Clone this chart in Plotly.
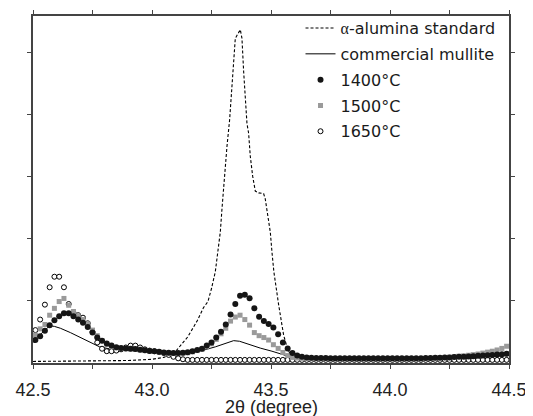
import plotly.graph_objects as go

# ---- scan grid of the measured patterns (2theta, degrees) ----
scan_start = 42.51
scan_step = 0.02
n_points = 100
two_theta = [round(scan_start + scan_step * i, 3) for i in range(n_points)]

# ---- measured samples (arbitrary intensity units) ----
i_1400 = [0.37, 0.43, 0.52, 0.61, 0.69, 0.755, 0.80, 0.80, 0.755, 0.70,
          0.65, 0.58, 0.49, 0.41, 0.36, 0.315, 0.28, 0.255, 0.24, 0.235,
          0.23, 0.225, 0.215, 0.205, 0.195, 0.19, 0.18, 0.17, 0.165, 0.16,
          0.16, 0.165, 0.175, 0.19, 0.21, 0.23, 0.28, 0.33, 0.41, 0.505,
          0.62, 0.78, 0.95, 1.085, 1.10, 1.045, 0.88, 0.745, 0.675, 0.63,
          0.57, 0.465, 0.33, 0.235, 0.16, 0.12, 0.10, 0.09, 0.085, 0.08,
          0.08, 0.08, 0.075, 0.075, 0.075, 0.075, 0.075, 0.075, 0.075, 0.075,
          0.075, 0.075, 0.075, 0.075, 0.075, 0.075, 0.075, 0.075, 0.075, 0.075,
          0.075, 0.075, 0.08, 0.08, 0.085, 0.085, 0.09, 0.09, 0.095, 0.10,
          0.10, 0.105, 0.11, 0.115, 0.12, 0.125, 0.13, 0.135, 0.14, 0.15]

i_1500 = [0.45, 0.55, 0.62, 0.77, 0.88, 0.99, 1.04, 0.93, 0.83, 0.76,
          0.70, 0.63, 0.53, 0.44, 0.36, 0.30, 0.265, 0.245, 0.235, 0.23,
          0.225, 0.22, 0.21, 0.20, 0.19, 0.185, 0.175, 0.165, 0.16, 0.155,
          0.155, 0.16, 0.165, 0.18, 0.20, 0.22, 0.26, 0.31, 0.38, 0.47,
          0.56, 0.675, 0.74, 0.77, 0.70, 0.61, 0.49, 0.44, 0.41, 0.37,
          0.295, 0.235, 0.17, 0.12, 0.09, 0.08, 0.075, 0.075, 0.07, 0.07,
          0.07, 0.07, 0.07, 0.07, 0.07, 0.07, 0.07, 0.07, 0.07, 0.07,
          0.07, 0.07, 0.07, 0.07, 0.07, 0.07, 0.07, 0.07, 0.07, 0.07,
          0.07, 0.07, 0.07, 0.075, 0.08, 0.085, 0.09, 0.095, 0.10, 0.11,
          0.115, 0.125, 0.135, 0.145, 0.16, 0.175, 0.19, 0.21, 0.235, 0.27]

i_1650 = [0.53, 0.70, 0.94, 1.22, 1.39, 1.39, 1.22, 0.95, 0.81, 0.77,
          0.73, 0.64, 0.50, 0.33, 0.23, 0.19, 0.19, 0.20, 0.22, 0.25,
          0.28, 0.28, 0.25, 0.22, 0.20, 0.19, 0.175, 0.16, 0.13, 0.10,
          0.075, 0.06, 0.05, 0.05, 0.05, 0.05, 0.05, 0.05, 0.05, 0.05,
          0.05, 0.05, 0.05, 0.05, 0.05, 0.05, 0.05, 0.05, 0.05, 0.05,
          0.05, 0.05, 0.05, 0.05, 0.05, 0.05, 0.05, 0.05, 0.05, 0.05,
          0.05, 0.05, 0.05, 0.05, 0.05, 0.05, 0.05, 0.05, 0.05, 0.05,
          0.05, 0.05, 0.05, 0.05, 0.05, 0.05, 0.05, 0.05, 0.05, 0.05,
          0.05, 0.05, 0.05, 0.05, 0.05, 0.05, 0.05, 0.05, 0.05, 0.05,
          0.05, 0.05, 0.05, 0.05, 0.05, 0.05, 0.05, 0.05, 0.05, 0.05]

# ---- reference patterns (lines) ----
alumina_x = [42.50, 42.70, 42.90, 43.00, 43.05, 43.10, 43.15, 43.19, 43.216, 43.235,
             43.25, 43.266, 43.272, 43.287, 43.294, 43.305, 43.315, 43.326, 43.336, 43.343,
             43.35, 43.371, 43.378, 43.385, 43.392, 43.399, 43.406, 43.413, 43.423, 43.434,
             43.448, 43.469, 43.476, 43.487, 43.497, 43.504, 43.512, 43.532, 43.553, 43.57,
             43.59, 43.62, 44.00, 44.50]
alumina_y = [0.025, 0.03, 0.04, 0.06, 0.09, 0.19, 0.42, 0.68, 0.89, 0.99,
             1.2, 1.47, 1.68, 2.11, 2.48, 3.06, 3.49, 3.91, 4.44, 4.97,
             5.23, 5.37, 5.23, 4.70, 4.28, 3.86, 3.70, 3.33, 3.01, 2.77,
             2.74, 2.73, 2.64, 2.37, 2.11, 1.79, 1.47, 0.94, 0.45, 0.22,
             0.08, 0.04, 0.03, 0.03]

mullite_x = [42.51, 42.54, 42.57, 42.59, 42.615, 42.657, 42.70, 42.74, 42.78, 42.825,
             42.90, 43.00, 43.08, 43.13, 43.17, 43.21, 43.266, 43.308, 43.343, 43.368,
             43.413, 43.455, 43.504, 43.553, 43.58, 43.62, 44.00, 44.30, 44.50]
mullite_y = [0.385, 0.50, 0.60, 0.59, 0.56, 0.49, 0.41, 0.33, 0.26, 0.225,
             0.21, 0.18, 0.16, 0.146, 0.17, 0.20, 0.26, 0.315, 0.36, 0.35,
             0.29, 0.24, 0.19, 0.135, 0.10, 0.075, 0.07, 0.08, 0.12]

x_ticks = [42.5, 43.0, 43.5, 44.0, 44.5]
y_ticks = [1, 2, 3, 4, 5]
x_title = "2θ (degree)"

fig = go.Figure()

fig.add_trace(go.Scatter(
    x=alumina_x, y=alumina_y, mode="lines",
    name="<span style='font-family:Liberation Serif, serif'>α</span>-alumina standard",
    line=dict(color="black", width=1.1, dash="3px,2px"), legendrank=1))
fig.add_trace(go.Scatter(
    x=mullite_x, y=mullite_y, mode="lines", name="commercial mullite",
    line=dict(color="black", width=1), legendrank=2))
fig.add_trace(go.Scatter(
    x=two_theta, y=i_1650, mode="markers", name="1650°C",
    marker=dict(symbol="circle", size=5, color="white",
                line=dict(color="black", width=1)), legendrank=5))
fig.add_trace(go.Scatter(
    x=two_theta, y=i_1500, mode="markers", name="1500°C",
    marker=dict(symbol="square", size=5, color="#9a9a9a",
                line=dict(width=0)), legendrank=4))
fig.add_trace(go.Scatter(
    x=two_theta, y=i_1400, mode="markers", name="1400°C",
    marker=dict(symbol="circle", size=6, color="#151515",
                line=dict(width=0)), legendrank=3))

for i, tr in enumerate(fig.data):
    tr.legendgroup = "g%d" % i

axis_line = dict(showline=True, linecolor="#444", linewidth=1.5, mirror="ticks",
                 showgrid=False, zeroline=False, ticks="outside", ticklen=4,
                 tickcolor="#444", tickwidth=1, automargin=False)

# the page body adds an 8 px offset, so margins are shifted by -8 px
fig.update_layout(
    width=533, height=416,
    margin=dict(l=25, r=32, t=3, b=61),
    paper_bgcolor="white", plot_bgcolor="white",
    showlegend=True,
    legend=dict(x=0.562, y=1.014, xanchor="left", yanchor="top",
                bgcolor="rgba(0,0,0,0)", borderwidth=0,
                font=dict(family="DejaVu Sans", size=16, color="#1a1a1a"),
                tracegroupgap=2, itemwidth=30),
    xaxis=dict(range=[42.5, 44.5], tickvals=x_ticks, tickformat=".1f",
               ticklabelstandoff=6,
               tickfont=dict(family="Liberation Sans, Arial", size=18, color="#222"),
               minor=dict(dtick=0.25, ticks="outside", ticklen=4, tickcolor="#444"),
               **axis_line),
    yaxis=dict(range=[0, 5.59], tickvals=y_ticks, showticklabels=False, **axis_line),
    annotations=[dict(text=x_title, xref="paper", yref="paper", x=0.5, y=-0.126,
                      xanchor="center", yanchor="middle", showarrow=False, borderpad=0,
                      font=dict(family="Liberation Sans, Arial", size=18, color="#222"))],
)

fig.write_html("out.html")
